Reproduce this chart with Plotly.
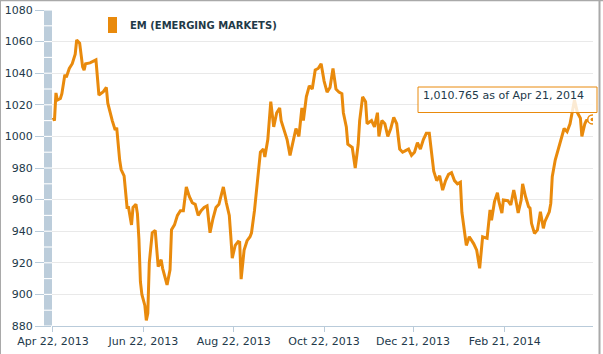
import plotly.graph_objects as go

# ---- data ----
dates = [
    "2013-04-22", "2013-04-23", "2013-04-24", "2013-04-25", "2013-04-27", "2013-04-28", "2013-04-30",
    "2013-05-01", "2013-05-03", "2013-05-05", "2013-05-07", "2013-05-08", "2013-05-10", "2013-05-11",
    "2013-05-12", "2013-05-13", "2013-05-14", "2013-05-17", "2013-05-19", "2013-05-21", "2013-05-23",
    "2013-05-24", "2013-05-26", "2013-05-28", "2013-05-29",
    "2013-06-01", "2013-06-02", "2013-06-03", "2013-06-04", "2013-06-05", "2013-06-06", "2013-06-07",
    "2013-06-09", "2013-06-11", "2013-06-12", "2013-06-14", "2013-06-15", "2013-06-17", "2013-06-18",
    "2013-06-19", "2013-06-20", "2013-06-21", "2013-06-23", "2013-06-24", "2013-06-25", "2013-06-26",
    "2013-06-28", "2013-06-30",
    "2013-07-02", "2013-07-04", "2013-07-05", "2013-07-08", "2013-07-10", "2013-07-11", "2013-07-13",
    "2013-07-15", "2013-07-17", "2013-07-19", "2013-07-21", "2013-07-23", "2013-07-25", "2013-07-27",
    "2013-07-29", "2013-07-31",
    "2013-08-02", "2013-08-04", "2013-08-06", "2013-08-08", "2013-08-10", "2013-08-12", "2013-08-14",
    "2013-08-15", "2013-08-17", "2013-08-19", "2013-08-20", "2013-08-21", "2013-08-23", "2013-08-25",
    "2013-08-26", "2013-08-27", "2013-08-29", "2013-08-31",
    "2013-09-02", "2013-09-03", "2013-09-05", "2013-09-07", "2013-09-09", "2013-09-11", "2013-09-12",
    "2013-09-14", "2013-09-16", "2013-09-18", "2013-09-20", "2013-09-22", "2013-09-23", "2013-09-25",
    "2013-09-27", "2013-09-29",
    "2013-10-01", "2013-10-03", "2013-10-05", "2013-10-07", "2013-10-08", "2013-10-10", "2013-10-12",
    "2013-10-14", "2013-10-16", "2013-10-18", "2013-10-20", "2013-10-22", "2013-10-24", "2013-10-26",
    "2013-10-28", "2013-10-30",
    "2013-11-01", "2013-11-03", "2013-11-04", "2013-11-06", "2013-11-07", "2013-11-10", "2013-11-12",
    "2013-11-14", "2013-11-15", "2013-11-17", "2013-11-19", "2013-11-20", "2013-11-23", "2013-11-25",
    "2013-11-27", "2013-11-28", "2013-11-30",
    "2013-12-02", "2013-12-04", "2013-12-06", "2013-12-08", "2013-12-10", "2013-12-12", "2013-12-14",
    "2013-12-16", "2013-12-18", "2013-12-20", "2013-12-22", "2013-12-24", "2013-12-26", "2013-12-28",
    "2013-12-30",
    "2014-01-01", "2014-01-03", "2014-01-04", "2014-01-06", "2014-01-08", "2014-01-10", "2014-01-12",
    "2014-01-14", "2014-01-16", "2014-01-18", "2014-01-20", "2014-01-22", "2014-01-23", "2014-01-24",
    "2014-01-26", "2014-01-28", "2014-01-31",
    "2014-02-02", "2014-02-04", "2014-02-06", "2014-02-09", "2014-02-11", "2014-02-12", "2014-02-14",
    "2014-02-16", "2014-02-17", "2014-02-19", "2014-02-20", "2014-02-23", "2014-02-25", "2014-02-27",
    "2014-02-28",
    "2014-03-02", "2014-03-04", "2014-03-05", "2014-03-07", "2014-03-09", "2014-03-10", "2014-03-11",
    "2014-03-13", "2014-03-15", "2014-03-17", "2014-03-19", "2014-03-20", "2014-03-23", "2014-03-24",
    "2014-03-25", "2014-03-27", "2014-03-29", "2014-03-31",
    "2014-04-02", "2014-04-04", "2014-04-06", "2014-04-09", "2014-04-11", "2014-04-13", "2014-04-14",
    "2014-04-16", "2014-04-17", "2014-04-21",
]
values = [
    1012, 1010, 1027.5, 1023, 1024, 1027, 1039,
    1037.5, 1043, 1046, 1052, 1061, 1059, 1050.5,
    1044, 1042, 1046, 1046.5, 1047.7, 1048.4, 1026.2,
    1027, 1028.3, 1031, 1021,
    1010, 1006, 1004, 1005.5, 993.5, 985, 979,
    975, 955, 955, 944, 955, 957, 951,
    935, 908, 900, 893, 883.5, 888, 920,
    939, 940.5,
    917.5, 922, 916.5, 906, 915.5, 941, 944,
    950, 953, 953, 968, 962, 958, 957,
    950, 953,
    955, 956, 939, 948, 955, 957, 965,
    968, 958, 950, 937, 923, 931, 933.4,
    933, 909.7, 928, 934,
    936.5, 939, 953, 970, 990, 992, 987,
    998, 1022, 1006, 1015, 1018, 1010, 1004,
    998, 988,
    996, 1005, 1000, 1018, 1010, 1025, 1032,
    1030, 1042, 1043, 1046, 1035, 1028, 1031,
    1043, 1030,
    1028, 1027, 1015, 1006, 995, 993, 980,
    995, 1010, 1025, 1022, 1008, 1010, 1006,
    1015, 1000, 1010,
    1008, 1000, 1005, 1012, 1008, 992, 990,
    991, 992, 988, 990, 996, 992, 998,
    1002,
    1002, 985, 978, 972, 975, 966, 972,
    976, 977, 972, 970, 971, 952, 945,
    931, 936.5, 932,
    928, 916.5, 936.5, 935.5, 953.4, 947, 958.7,
    964.4, 958.7, 951.5, 959.7, 959.3, 956.6, 966,
    961.8,
    951.5, 959.8, 970, 961.8, 955.5, 954.6, 945,
    938.6, 940.8, 952.3, 941.8, 946, 952.3, 957.6,
    974.5, 985, 991.4, 998,
    1005, 1003, 1008, 1023, 1015, 1011.5, 1000,
    1008, 1010, 1010.765,
]
series_name = "EM (EMERGING MARKETS)"
tick_dates = ["2013-04-22", "2013-06-22", "2013-08-22", "2013-10-22", "2013-12-21", "2014-02-21"]
tick_labels = ["Apr 22, 2013", "Jun 22, 2013", "Aug 22, 2013", "Oct 22, 2013", "Dec 21, 2013", "Feb 21, 2014"]
y_ticks = [880, 900, 920, 940, 960, 980, 1000, 1020, 1040, 1060, 1080]
tooltip_text = "1,010.765 as of Apr 21, 2014"

ORANGE = "#e98a0c"
AXIS_BLUE = "#b9cbda"
TEXT = "#22394a"
FONT = "DejaVu Sans"

fig = go.Figure()
fig.add_trace(go.Scatter(x=dates, y=values, mode="lines",
                         line=dict(color=ORANGE, width=3), hoverinfo="skip", showlegend=False))
# last-point marker (ring with centre dot)
fig.add_trace(go.Scatter(x=[dates[-1]], y=[values[-1]], mode="markers",
                         marker=dict(size=9, color="white", line=dict(color=ORANGE, width=1.5)),
                         hoverinfo="skip", showlegend=False))
fig.add_trace(go.Scatter(x=[dates[-1]], y=[values[-1]], mode="markers",
                         marker=dict(size=3.5, color=ORANGE, line=dict(width=0)),
                         hoverinfo="skip", showlegend=False))

shapes = []
# segmented scale bar on the left of the plot
shapes.append(dict(type="rect", xref="paper", yref="y", x0=-8 / 541, x1=0, y0=880, y1=1080,
                   fillcolor="white", line=dict(width=0), layer="above"))
for k in range(20):
    lo = 880 + 10 * k
    shapes.append(dict(type="rect", xref="paper", yref="y", x0=-8 / 541, x1=0,
                       y0=lo + 0.35, y1=lo + 10 - 0.35,
                       fillcolor="#bccddb", line=dict(width=0), layer="above"))
# outer frame (left, top, right)
shapes.append(dict(type="line", xref="paper", yref="paper", x0=-51.5 / 541, x1=-51.5 / 541,
                   y0=-28 / 316, y1=1 + 10 / 316, line=dict(color="#a9a9a9", width=1)))
shapes.append(dict(type="line", xref="paper", yref="paper", x0=-52 / 541, x1=1 + 10 / 541,
                   y0=1 + 9.5 / 316, y1=1 + 9.5 / 316, line=dict(color="#a9a9a9", width=1.5)))
shapes.append(dict(type="line", xref="paper", yref="paper", x0=1 + 6.5 / 541, x1=1 + 6.5 / 541,
                   y0=-28 / 316, y1=1 + 10 / 316, line=dict(color="#a9a9a9", width=2)))
# legend swatch
shapes.append(dict(type="rect", xref="paper", yref="paper",
                   x0=(108 - 52) / 541, x1=(117 - 52) / 541,
                   y0=1 - (33 - 10) / 316, y1=1 - (17 - 10) / 316,
                   fillcolor=ORANGE, line=dict(width=0)))
# tooltip box
shapes.append(dict(type="rect", xref="paper", yref="paper",
                   x0=(418 - 52) / 541, x1=(597 - 52) / 541,
                   y0=1 - (112.5 - 10) / 316, y1=1 - (87 - 10) / 316,
                   fillcolor="rgba(255,255,255,0.82)", line=dict(color=ORANGE, width=1), layer="above"))

annotations = [
    dict(xref="paper", yref="paper", x=(128 - 52) / 541, y=1 - (25.5 - 10) / 316,
         xanchor="left", yanchor="middle", showarrow=False, text="<b>" + series_name + "</b>",
         font=dict(family=FONT, size=10, color="#1f3a48")),
    dict(xref="paper", yref="paper", x=(421 - 52) / 541, y=1 - (95.5 - 10) / 316,
         xanchor="left", yanchor="middle", showarrow=False, text=tooltip_text,
         font=dict(family=FONT, size=11, color=TEXT)),
]

fig.update_layout(
    width=603, height=354, autosize=False,
    margin=dict(l=52, r=10, t=10, b=28, pad=0, autoexpand=False),
    paper_bgcolor="white", plot_bgcolor="white",
    font=dict(family=FONT, size=11, color=TEXT),
    shapes=shapes, annotations=annotations,
    xaxis=dict(type="date", range=["2013-04-21 08:00", "2014-04-21 12:00"], automargin=False,
               tickvals=tick_dates, ticktext=tick_labels, ticks="outside", ticklen=5,
               tickcolor=AXIS_BLUE, showline=True, linecolor=AXIS_BLUE, linewidth=1,
               showgrid=False, zeroline=False, tickfont=dict(family=FONT, size=11, color=TEXT)),
    yaxis=dict(range=[880, 1080], tickvals=y_ticks, ticks="outside", ticklen=16, automargin=False,
               tickcolor=AXIS_BLUE, showgrid=True, gridcolor="#e9e9e9", gridwidth=1,
               zeroline=False, showline=False, tickfont=dict(family=FONT, size=11, color=TEXT)),
    showlegend=False,
)

fig.write_html("out.html")
